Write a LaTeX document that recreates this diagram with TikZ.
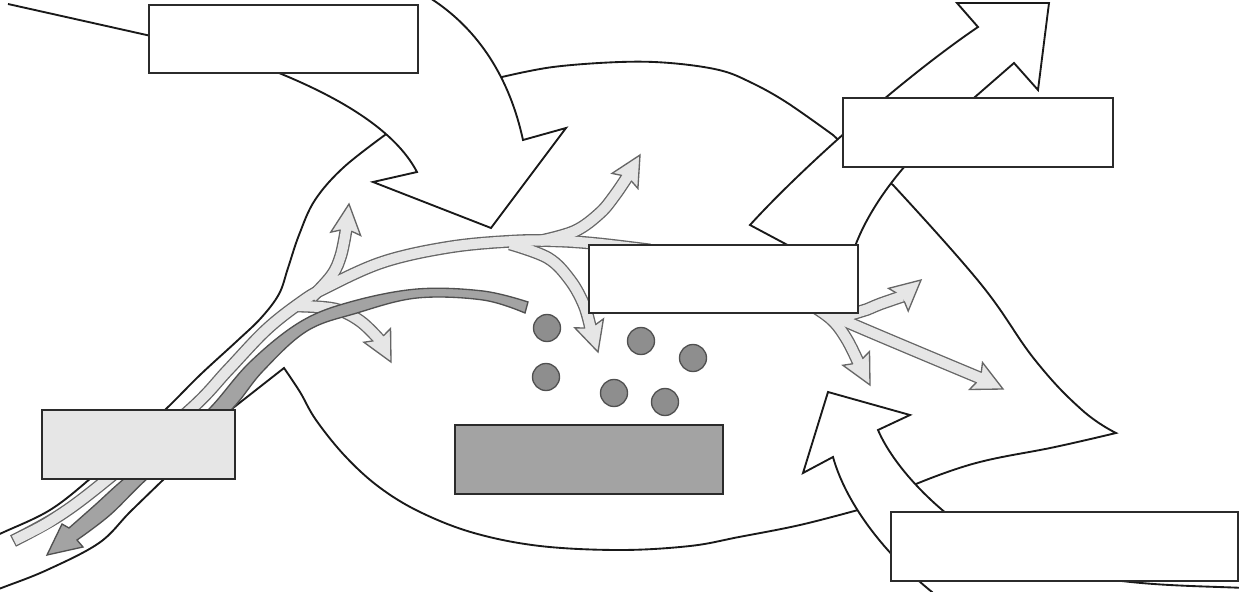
\documentclass[tikz,border=0pt]{standalone}
\usetikzlibrary{calc}
\definecolor{vfill}{HTML}{E6E6E6}
\definecolor{vline}{HTML}{666666}
\definecolor{dvein}{HTML}{A3A3A3}
\definecolor{dvline}{HTML}{505050}
\definecolor{dotfill}{HTML}{8E8E8E}
\definecolor{boxline}{HTML}{2B2B2B}
\newcommand{\veinhead}[2]{%
  \path ($(#1)!22.5pt!(#2)$) coordinate (hb) ($(#1)!20.25pt!(#2)$) coordinate (hn);
  \filldraw[vhead] (#1) -- ($(hb)!11.25pt!90:(#1)$) -- ($(hn)!4.6pt!90:(#1)$) -- ($(hn)!4.6pt!-90:(#1)$) -- ($(hb)!11.25pt!-90:(#1)$) -- cycle;}
\newcommand{\lightveins}[2]{%
  \draw[#1,#2] plot[smooth,tension=0.6] coordinates {(13,541) (60,515) (109,478) (191,409) (228,370) (266,330) (300,303) (325,288) (383,262) (450,247) (515,241) (560,241) (600,244) (650,250)};
  \draw[#1] plot[smooth,tension=0.6] coordinates {(312,297) (332,275) (341,255) (eUL)};
  \draw[#1] plot[smooth,tension=0.6] coordinates {(540,241) (575,231) (600,213) (615,195) (eUR)};
  \draw[#1] plot[smooth,tension=0.6] coordinates {(510,244) (548,258) (570,280) (584,305) (eDM)};
  \draw[#1] plot[smooth,tension=0.6] coordinates {(298,306) (335,309) (360,321) (eDR)};
  \draw[#1] plot[smooth,tension=0.6] coordinates {(800,298) (840,314) (862,311) (880,304) (eRU)};
  \draw[#1] plot[smooth,tension=0.6] coordinates {(800,298) (838,318) (eRL)};
  \draw[#1] plot[smooth,tension=0.6] coordinates {(800,298) (830,318) (846,338) (eRD)};
}
\begin{document}
\begin{tikzpicture}[x=0.75pt,y=-0.75pt,
  outline/.style={draw=black!90, line width=1.4pt, line join=miter},
  labelbox/.style={draw=boxline, line width=1.4pt, fill=white, inner sep=0pt, anchor=north west},
  vout/.style={draw=vline, line width=9.6pt},
  vin/.style={draw=vfill, line width=7.6pt},
  vhead/.style={fill=vfill, draw=vline, line width=1pt, line join=miter},
  dot/.style={circle, fill=dotfill, draw=dvline, line width=1pt, minimum size=20.25pt, inner sep=0pt}]
\useasboundingbox (0,0) rectangle (1239,592);
\clip (0,0) rectangle (1239,592);

% leaf outline
\draw[outline] plot[smooth,tension=0.6] coordinates {(389,132) (344,167) (315,200) (299,235) (288,268) (279,294) (261,318) (237,341) (200,375) (167,408) (129,443) (91,478) (50,510) (4,532) (-10,538)}
  -- (-12,595)
  -- plot[smooth,tension=0.6] coordinates {(-10,592) (4,587) (47,570) (99,543) (130,512) (164,479)}
  -- (233,408) -- (284,368)
  -- plot[smooth,tension=0.6] coordinates {(284,368) (300,392) (316,420) (345,456) (379,487) (420,512) (474,533) (540,546) (620,550) (690,546) (739,537) (800,525) (858,510)}
  -- (890,497)
  -- plot[smooth,tension=0.7] coordinates {(916,484) (976,463) (1055,447) (1116,433)}
  -- plot[smooth,tension=0.7] coordinates {(1116,433) (1082,410) (1035,360) (980,283) (893,185)}
  -- (860,160)
  -- plot[smooth,tension=0.6] coordinates {(833,135) (786,102) (750,82) (719,70) (670,63) (620,62) (553,67) (502,77)}
  -- (450,110) -- cycle;

% big incoming arrow, top left
\filldraw[outline, fill=white] (8,4) -- (160,38) -- (268,68) -- (279,73)
  .. controls (340,98) and (395,130) .. (417,172)
  -- (373,182) -- (491,228) -- (566,128) -- (523,140)
  .. controls (510,80) and (480,30) .. (430,-2);

% outgoing arrow, top right
\filldraw[outline, fill=white] (795,249) -- (750,225)
  .. controls (800,170) and (900,80) .. (978,27)
  -- (957,3) -- (1049,3) -- (1038,90) -- (1014,63) -- (975,97) -- (905,166)
  .. controls (880,195) and (862,225) .. (853,252) -- cycle;

% incoming arrow, bottom right
\filldraw[outline, fill=white] (940,602) -- (932,592)
  .. controls (880,550) and (845,500) .. (833,457)
  -- (803,473) -- (828,392) -- (910,415) -- (878,430)
  .. controls (895,470) and (950,530) .. (1030,565)
  -- (1100,578)
  .. controls (1150,586) and (1200,586) .. (1245,588);

% light veins
\coordinate (tUL) at (349,204); \coordinate (dUL) at (345,240);
\coordinate (tUR) at (640,155); \coordinate (dUR) at (622,186);
\coordinate (tDM) at (598,352); \coordinate (dDM) at (589,323);
\coordinate (tDR) at (391,362); \coordinate (dDR) at (376,333);
\coordinate (tRU) at (921,280); \coordinate (dRU) at (898,300);
\coordinate (tRL) at (1003,389); \coordinate (dRL) at (976,376);
\coordinate (tRD) at (870,385); \coordinate (dRD) at (856,358);
\foreach \n in {UL,UR,DM,DR,RU,RL,RD}{\coordinate (e\n) at ($(t\n)!18.75pt!(d\n)$);}

\lightveins{vout}{}
\veinhead{tUL}{dUL}
\veinhead{tUR}{dUR}
\veinhead{tDM}{dDM}
\veinhead{tDR}{dDR}
\veinhead{tRU}{dRU}
\veinhead{tRL}{dRL}
\veinhead{tRD}{dRD}
\lightveins{vin}{shorten <=1pt}

% dark vein
\filldraw[fill=dvein, draw=dvline, line width=1pt, line join=miter]
  plot[smooth,tension=0.6] coordinates {(528,302) (483,291) (417,289) (350,302) (300,322) (250,362) (209,409) (167,445) (125,478) (95,505) (69,528)}
  -- (62,524) -- (47,555) -- (83,547)
  -- plot[smooth,tension=0.6] coordinates {(77,540) (110,515) (148,478) (190,445) (232,409) (263,371) (307,331) (357,313) (417,298) (483,300) (525,313)} -- cycle;

% dots
\node[dot] (c1) at (547,328) {};
\node[dot] (c2) at (641,341) {};
\node[dot] (c3) at (693,358) {};
\node[dot] (c4) at (546,377) {};
\node[dot] (c5) at (614,393) {};
\node[dot] (c6) at (665,402) {};

% boxes
\node[labelbox, minimum width=201.75pt, minimum height=51pt] (b1) at (148,4) {};
\node[labelbox, minimum width=202.5pt, minimum height=51.75pt] (b2) at (842,97) {};
\node[labelbox, minimum width=201.75pt, minimum height=51pt] (b3) at (588,244) {};
\node[labelbox, minimum width=260.25pt, minimum height=51.75pt] (b4) at (890,511) {};
\node[labelbox, fill=vfill, minimum width=144.75pt, minimum height=51.75pt] (b5) at (41,409) {};
\node[labelbox, fill=dvein, minimum width=201pt, minimum height=51.75pt] (b6) at (454,424) {};
\end{tikzpicture}
\end{document}
